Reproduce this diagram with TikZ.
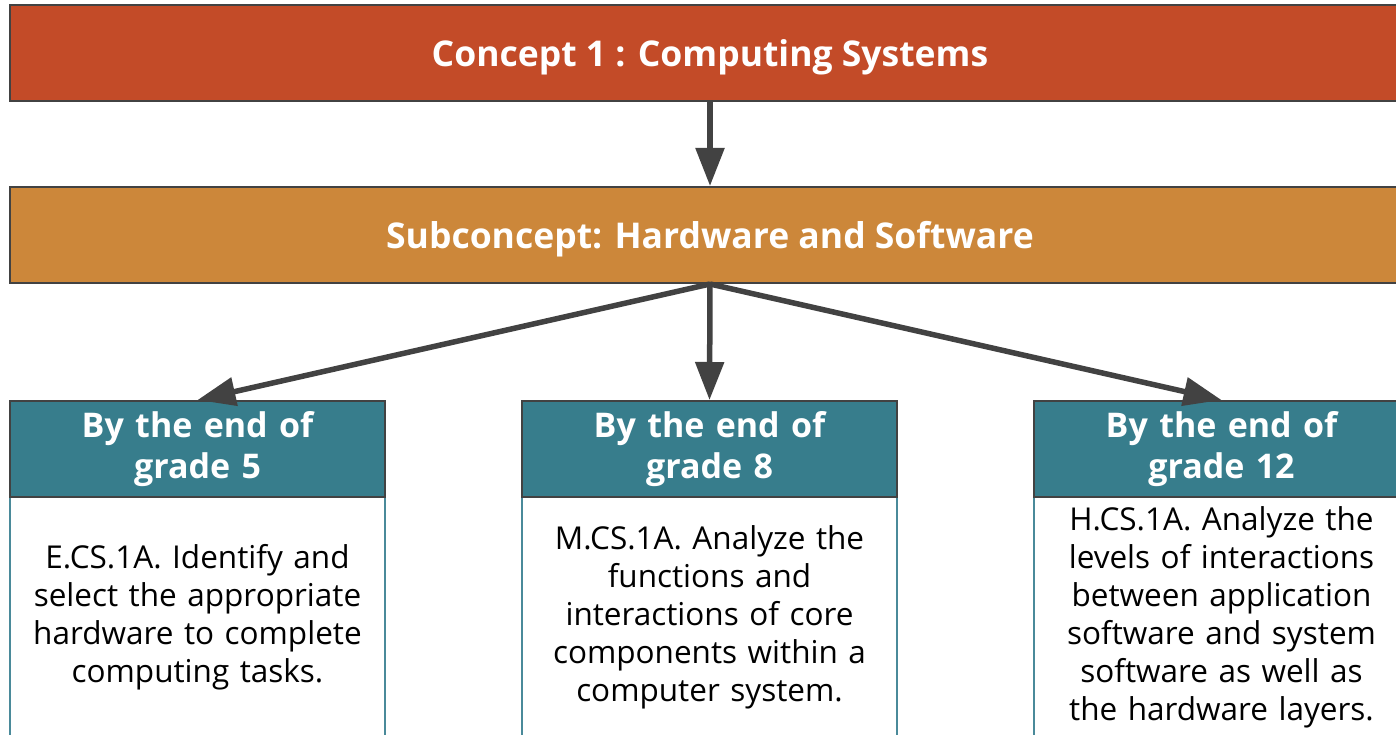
\documentclass[tikz,border=0pt]{standalone}
\usepackage{fontspec}
\setmainfont{Open Sans}
\usetikzlibrary{arrows.meta}
\definecolor{conceptred}{HTML}{C34B28}
\definecolor{subcorange}{HTML}{CC873A}
\definecolor{gradeteal}{HTML}{377D8C}
\definecolor{bodyedge}{HTML}{4A8A9A}
\definecolor{arrowgray}{HTML}{424242}

\begin{document}
\begin{tikzpicture}[x=1pt,y=-1pt,
  banner/.style={draw=arrowgray,line width=2pt,minimum width=1400pt,minimum height=96pt,
    inner sep=0pt,text depth=0pt,text=white,font=\bfseries\fontsize{35.5}{42}\selectfont},
  gradehead/.style={draw=arrowgray,line width=2pt,fill=gradeteal,minimum width=375pt,
    minimum height=96pt,inner sep=0pt,text=white,text width=365pt,align=center,
    font=\bfseries\fontsize{34}{41}\selectfont},
  gradebody/.style={draw=bodyedge,line width=1.5pt,fill=white,minimum width=375pt,
    minimum height=240pt,inner sep=0pt,text width=365pt,align=center,
    font=\fontsize{31.5}{38}\selectfont},
  link/.style={draw=arrowgray,line width=5.5pt,-{Triangle[length=38pt,width=28pt]}}]
\useasboundingbox (0,0) rectangle (1396,735);
\clip (0,0) rectangle (1396,735);
% concept and subconcept banners
\node[banner,fill=conceptred] (concept) at (710,53) {Concept 1 : Computing Systems};
\node[banner,fill=subcorange] (subconcept) at (710,235) {Subconcept: Hardware and Software};
% grade columns
\node[gradebody] (bodyE) at (197.5,617) {E.CS.1A. Identify and\\ select the appropriate\\ hardware to complete\\ computing tasks.};
\node[gradebody] (bodyM) at (709.5,617) {M.CS.1A. Analyze the\\ functions and\\ interactions of core\\ components within a\\ computer system.};
\node[gradebody] (bodyH) at (1221.5,617) {H.CS.1A. Analyze the\\ levels of interactions\\ between application\\ software and system\\ software as well as\\ the hardware layers.};
\node[gradehead] (headE) at (197.5,449) {By the end of\\ grade 5};
\node[gradehead] (headM) at (709.5,449) {By the end of\\ grade 8};
\node[gradehead] (headH) at (1221.5,449) {By the end of\\ grade 12};
% arrows
\draw[link] (concept.south) -- (subconcept.north);
\draw[link] (subconcept.south) -- (headE.north);
\draw[link] (subconcept.south) -- (headM.north);
\draw[link] (subconcept.south) -- (headH.north);
\end{tikzpicture}
\end{document}
